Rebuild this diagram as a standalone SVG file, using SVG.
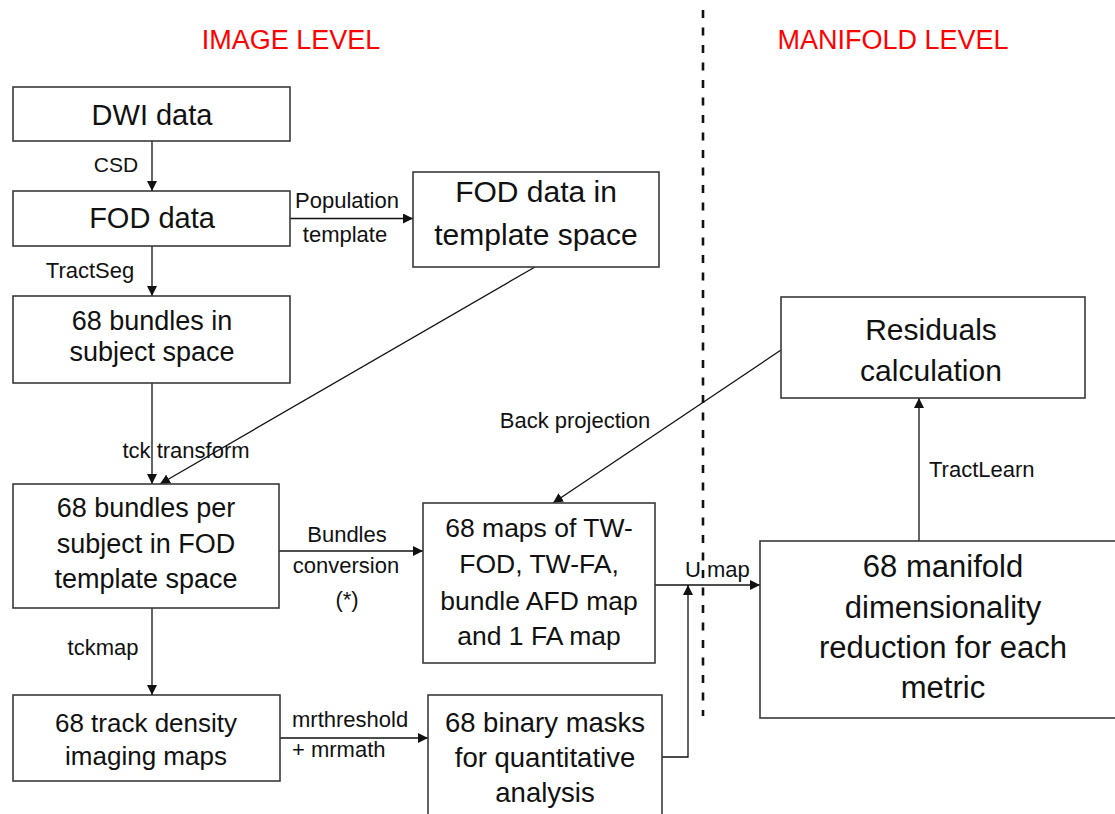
<svg xmlns="http://www.w3.org/2000/svg" width="1115" height="814" viewBox="0 0 1115 814">
<style>
.box{fill:#fff;stroke:#3a3a3a;stroke-width:1.6}
.t{font-family:"Liberation Sans",Arial,sans-serif;fill:#111;text-anchor:middle}
.lb{font-family:"Liberation Sans",Arial,sans-serif;fill:#111;font-size:22px;text-anchor:middle}
.title{font-family:"Liberation Sans",Arial,sans-serif;fill:#ff0000;font-size:27px;text-anchor:middle}
.c{fill:none;stroke:#111;stroke-width:1.3;marker-end:url(#ah)}
</style>
<defs>
<marker id="ah" viewBox="0 0 10 10" refX="10" refY="5" markerWidth="10" markerHeight="10" markerUnits="userSpaceOnUse" orient="auto">
<path d="M0,0 L10,5 L0,10 Z" fill="#111"/>
</marker>
</defs>
<rect width="1115" height="814" fill="#fff"/>
<text class="title" x="291" y="49">IMAGE LEVEL</text>
<text class="title" x="893" y="49">MANIFOLD LEVEL</text>
<line x1="703" y1="10" x2="703" y2="716" stroke="#111" stroke-width="2.6" stroke-dasharray="8 9.5"/>

<g id="connectors">
<line class="c" x1="152" y1="141" x2="152" y2="191"/>
<line class="c" x1="290" y1="218.5" x2="413" y2="218.5"/>
<line class="c" x1="152" y1="246" x2="152" y2="296"/>
<line class="c" x1="152" y1="383" x2="152" y2="484"/>
<line class="c" x1="535" y1="267" x2="160" y2="484"/>
<line class="c" x1="279" y1="551" x2="423" y2="551"/>
<line class="c" x1="152" y1="608" x2="152" y2="695"/>
<line class="c" x1="280" y1="738" x2="428" y2="738"/>
<polyline class="c" points="662,757 688,757 688,585"/>
<line class="c" x1="655" y1="585" x2="760" y2="585"/>
<line class="c" x1="919" y1="541" x2="919" y2="398"/>
<line class="c" x1="781" y1="350" x2="553" y2="503"/>
<text class="lb" x="116" y="172" style="font-size:21px">CSD</text>
<text class="lb" x="347" y="208">Population</text>
<text class="lb" x="345" y="242">template</text>
<text class="lb" x="90" y="278">TractSeg</text>
<text class="lb" x="186" y="458">tck transform</text>
<text class="lb" x="347" y="542">Bundles</text>
<text class="lb" x="346" y="573">conversion</text>
<text class="lb" x="347" y="607">(*)</text>
<text class="lb" x="103" y="655">tckmap</text>
<text class="lb" x="292" y="727" text-anchor="start" style="text-anchor:start">mrthreshold</text>
<text class="lb" x="292" y="757" style="text-anchor:start">+ mrmath</text>
<text class="lb" x="575" y="428">Back projection</text>
<text class="lb" x="929" y="477" style="text-anchor:start">TractLearn</text>
<text class="lb" x="685" y="577" style="text-anchor:start">U map</text>
</g>

<g id="dwi">
<rect class="box" x="13" y="87" width="277" height="54"/>
<text class="t" x="152" y="125" font-size="29">DWI data</text>
</g>
<g id="fod">
<rect class="box" x="13" y="191" width="277" height="55"/>
<text class="t" x="152" y="228" font-size="29">FOD data</text>
</g>
<g id="fod-template">
<rect class="box" x="413" y="172" width="246" height="95"/>
<text class="t" x="536" y="202" font-size="30">FOD data in</text>
<text class="t" x="536" y="245" font-size="30">template space</text>
</g>
<g id="bundles-subject">
<rect class="box" x="13" y="296" width="277" height="87"/>
<text class="t" x="152" y="330" font-size="27">68 bundles in</text>
<text class="t" x="152" y="361" font-size="27">subject space</text>
</g>
<g id="bundles-template">
<rect class="box" x="13" y="484" width="266" height="124"/>
<text class="t" x="146" y="517" font-size="27">68 bundles per</text>
<text class="t" x="146" y="553" font-size="27">subject in FOD</text>
<text class="t" x="146" y="588" font-size="27">template space</text>
</g>
<g id="maps">
<rect class="box" x="423" y="503" width="232" height="160"/>
<text class="t" x="539" y="537" font-size="26.5">68 maps of TW-</text>
<text class="t" x="539" y="573" font-size="26.5">FOD, TW-FA,</text>
<text class="t" x="539" y="610" font-size="26.5">bundle AFD map</text>
<text class="t" x="539" y="645" font-size="26.5">and 1 FA map</text>
</g>
<g id="track-density">
<rect class="box" x="13" y="695" width="267" height="86"/>
<text class="t" x="146" y="732" font-size="26">68 track density</text>
<text class="t" x="146" y="765" font-size="26">imaging maps</text>
</g>
<g id="binary-masks">
<rect class="box" x="428" y="695" width="234" height="130"/>
<text class="t" x="545" y="732" font-size="27.5">68 binary masks</text>
<text class="t" x="545" y="767" font-size="27.5">for quantitative</text>
<text class="t" x="545" y="802" font-size="27.5">analysis</text>
</g>
<g id="residuals">
<rect class="box" x="781" y="297" width="304" height="101"/>
<text class="t" x="931" y="340" font-size="30">Residuals</text>
<text class="t" x="931" y="381" font-size="30">calculation</text>
</g>
<g id="manifold">
<rect class="box" x="760" y="541" width="370" height="177"/>
<text class="t" x="943" y="577" font-size="31">68 manifold</text>
<text class="t" x="943" y="618" font-size="31">dimensionality</text>
<text class="t" x="943" y="658" font-size="31">reduction for each</text>
<text class="t" x="943" y="698" font-size="31">metric</text>
</g>
</svg>
